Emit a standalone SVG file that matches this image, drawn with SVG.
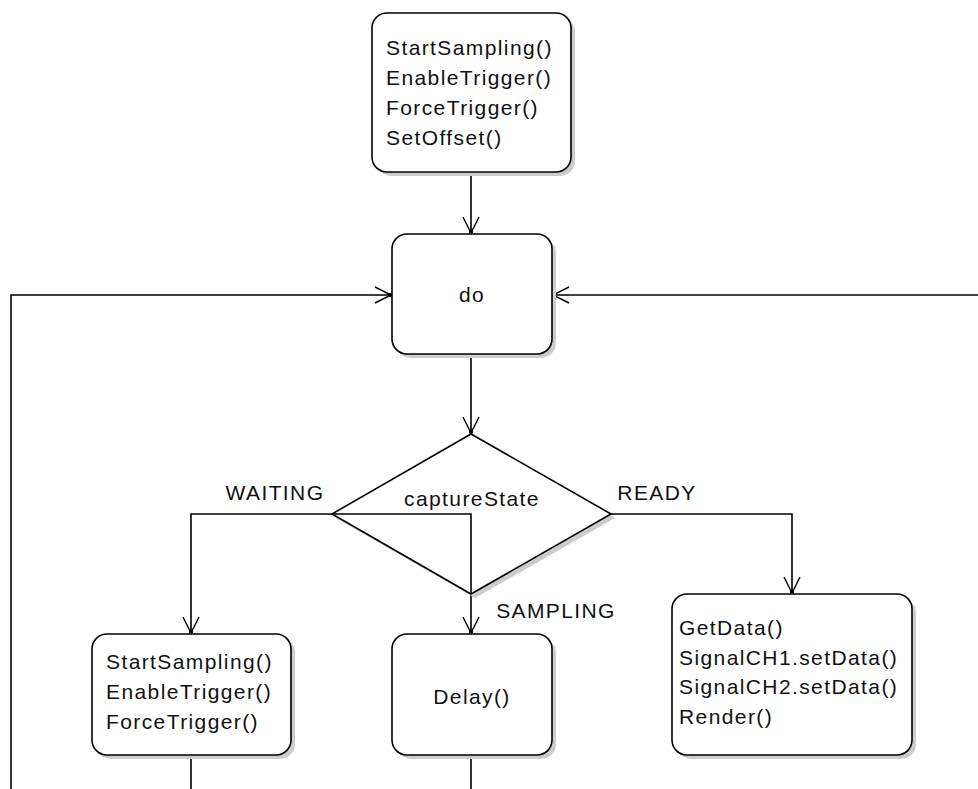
<svg xmlns="http://www.w3.org/2000/svg" width="978" height="789" viewBox="0 0 978 789">
<style>
.box{fill:#ffffff;stroke:#000000;stroke-width:1.6}
.shadow{fill:#cccccc;stroke:none}
.t{font-family:"Liberation Sans",Arial,sans-serif;font-size:21px;letter-spacing:1.4px;fill:#111111}
.c{text-anchor:middle}
.edge{fill:none;stroke:#000000;stroke-width:1.6}
</style>
<defs>
<marker id="arr" viewBox="-18 -10 20 20" refX="0" refY="0" markerWidth="20" markerHeight="20" markerUnits="userSpaceOnUse" orient="auto">
<path d="M-16,-8 L0,0 L-16,8" fill="none" stroke="#000" stroke-width="1.4"/>
<rect x="-2.5" y="-2" width="3" height="4" fill="#000"/>
</marker>
</defs>
<rect width="978" height="789" fill="#ffffff"/>

<g id="connectors">
<path class="edge" d="M471,172 L471,233" marker-end="url(#arr)"/>
<path class="edge" d="M471,354 L471,433" marker-end="url(#arr)"/>
<path class="edge" d="M332,514 L191,514 L191,633" marker-end="url(#arr)"/>
<path class="edge" d="M332,514 L471,514 L471,633" marker-end="url(#arr)"/>
<path class="edge" d="M611,514 L792,514 L792,593" marker-end="url(#arr)"/>
<path class="edge" d="M11,789 L11,295 L391,295" marker-end="url(#arr)"/>
<path class="edge" d="M980,295 L553,295" marker-end="url(#arr)"/>
<path class="edge" d="M191,755 L191,789"/>
<path class="edge" d="M471,755 L471,789"/>
<text class="t c" x="275" y="500">WAITING</text>
<text class="t c" x="657" y="500">READY</text>
<text class="t c" x="556" y="618">SAMPLING</text>
</g>

<g id="init">
<rect class="shadow" x="376" y="17" width="199" height="159" rx="15"/>
<rect class="box" x="372" y="13" width="199" height="159" rx="15"/>
<text class="t" x="386" y="55">StartSampling()</text>
<text class="t" x="386" y="85">EnableTrigger()</text>
<text class="t" x="386" y="115">ForceTrigger()</text>
<text class="t" x="386" y="145">SetOffset()</text>
</g>

<g id="do">
<rect class="shadow" x="396" y="238" width="160" height="120" rx="15"/>
<rect class="box" x="392" y="234" width="160" height="120" rx="15"/>
<text class="t c" x="472" y="302">do</text>
</g>

<g id="captureState">
<polygon class="shadow" points="475,438 615,518 475,598 336,518"/>
<polygon class="box" points="471,434 611,514 471,594 332,514"/>
<text class="t c" x="472" y="506">captureState</text>
<path class="edge" d="M332,514 L471,514 L471,594"/>
</g>

<g id="waiting">
<rect class="shadow" x="96" y="638" width="199" height="121" rx="15"/>
<rect class="box" x="92" y="634" width="199" height="121" rx="15"/>
<text class="t" x="106" y="669">StartSampling()</text>
<text class="t" x="106" y="699">EnableTrigger()</text>
<text class="t" x="106" y="729">ForceTrigger()</text>
</g>

<g id="sampling">
<rect class="shadow" x="396" y="638" width="160" height="121" rx="15"/>
<rect class="box" x="392" y="634" width="160" height="121" rx="15"/>
<text class="t c" x="472" y="704">Delay()</text>
</g>

<g id="ready">
<rect class="shadow" x="676" y="598" width="240" height="161" rx="15"/>
<rect class="box" x="672" y="594" width="240" height="161" rx="15"/>
<text class="t" x="679" y="635">GetData()</text>
<text class="t" x="679" y="665">SignalCH1.setData()</text>
<text class="t" x="679" y="694">SignalCH2.setData()</text>
<text class="t" x="679" y="724">Render()</text>
</g>
</svg>
